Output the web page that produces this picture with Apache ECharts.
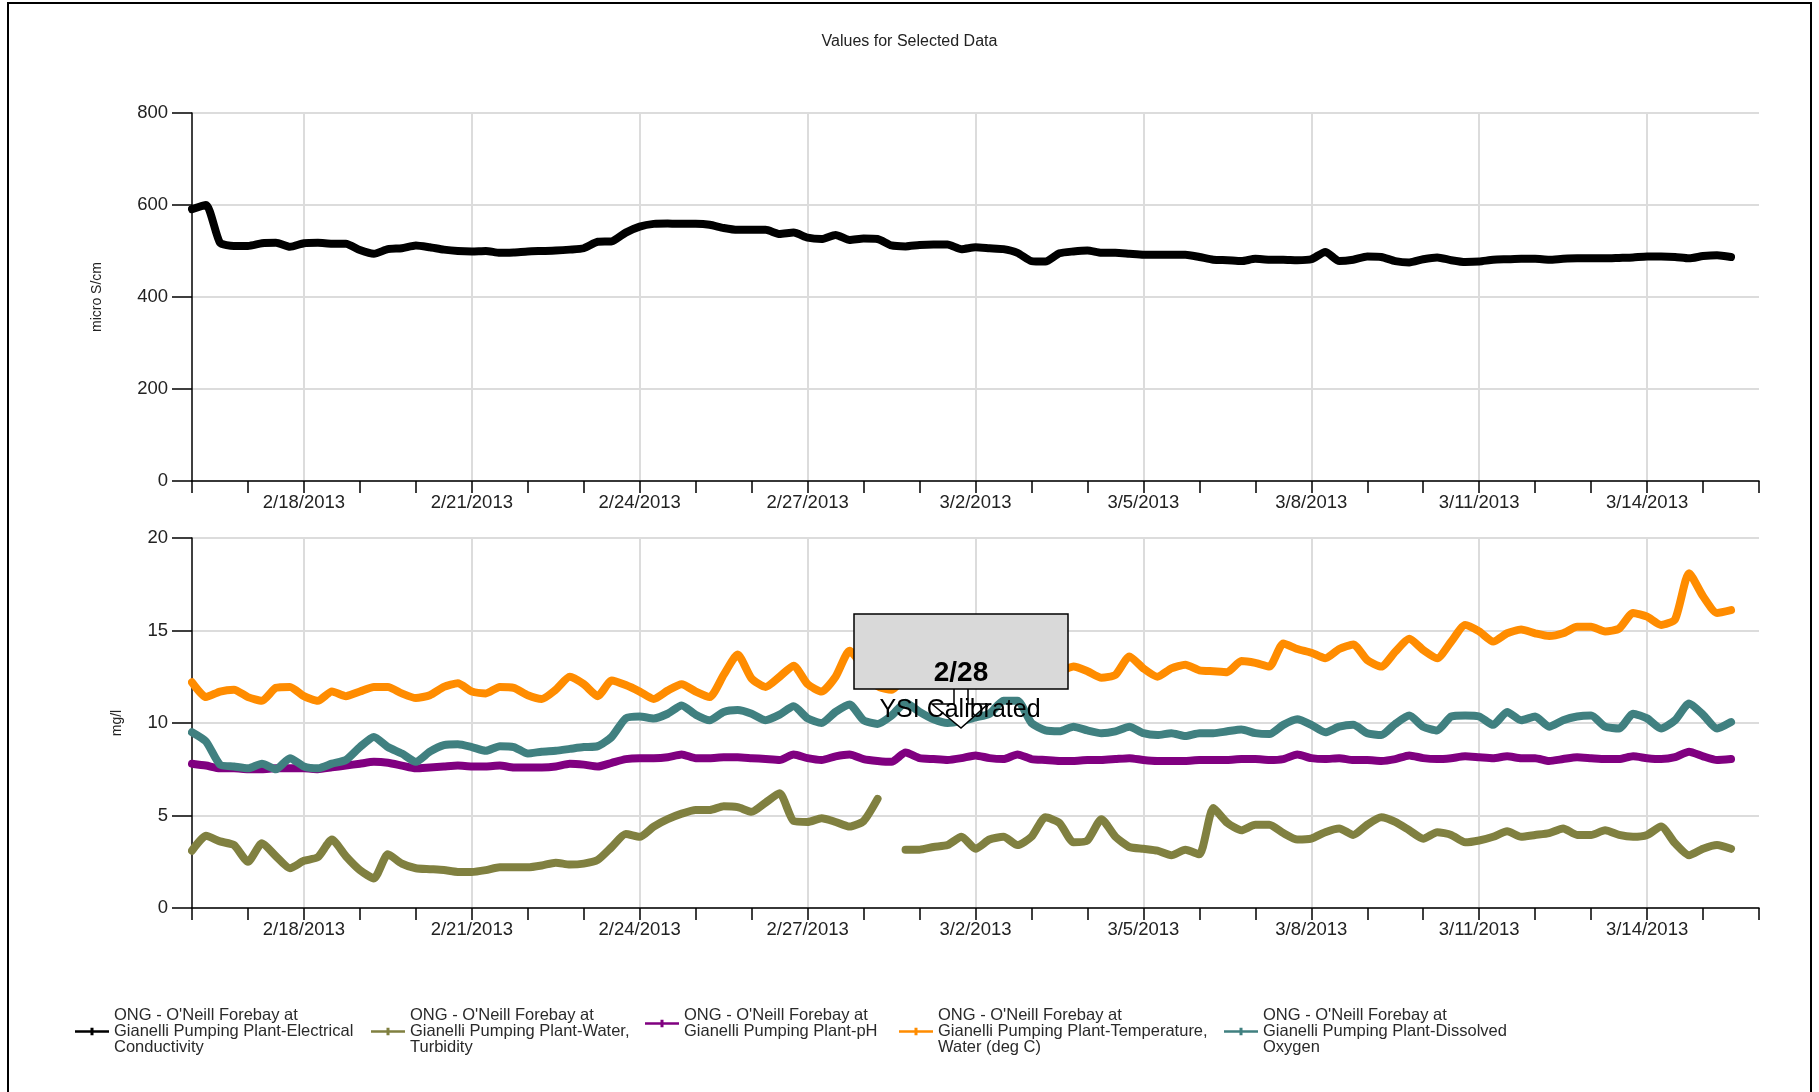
<!DOCTYPE html>
<html>
<head>
<meta charset="utf-8">
<title>Values for Selected Data</title>
<script src="https://cdn.jsdelivr.net/npm/echarts/dist/echarts.min.js"></script>
<style>
  html, body { margin: 0; padding: 0; background: #fff; }
  #chart { width: 1819px; height: 1092px; }
</style>
</head>
<body>
<div id="chart"></div>
<script>
// one entry per calendar day, readings every 6 hours
const dayLabels = [
  '2/16/2013', '2/17/2013', '2/18/2013', '2/19/2013', '2/20/2013', '2/21/2013', '2/22/2013',
  '2/23/2013', '2/24/2013', '2/25/2013', '2/26/2013', '2/27/2013', '2/28/2013', '3/1/2013',
  '3/2/2013', '3/3/2013', '3/4/2013', '3/5/2013', '3/6/2013', '3/7/2013', '3/8/2013',
  '3/9/2013', '3/10/2013', '3/11/2013', '3/12/2013', '3/13/2013', '3/14/2013', '3/15/2013',
  '3/16/2013'
];
const hours = ['00:00', '06:00', '12:00', '18:00'];

const seriesNames = [
  "ONG - O'Neill Forebay at\nGianelli Pumping Plant-Electrical\nConductivity",
  "ONG - O'Neill Forebay at\nGianelli Pumping Plant-Water,\nTurbidity",
  "ONG - O'Neill Forebay at\nGianelli Pumping Plant-pH",
  "ONG - O'Neill Forebay at\nGianelli Pumping Plant-Temperature,\nWater (deg C)",
  "ONG - O'Neill Forebay at\nGianelli Pumping Plant-Dissolved\nOxygen"
];
const seriesColors = ['#000000', '#808040', '#800080', '#ff8c00', '#408080'];

// micro S/cm
const conductivity = [
  591, 600, 518, 511, 511, 517, 518, 509, 517, 518, 516, 516,
  502, 494, 504, 506, 512, 508, 503, 500, 499, 500, 496, 497,
  499, 500, 501, 503, 506, 520, 521, 540, 553, 559, 560, 559,
  559, 557, 550, 546, 546, 546, 537, 540, 529, 526, 535, 524,
  527, 526, 512, 510, 513, 514, 514, 504, 508, 506, 504, 496,
  478, 477, 495, 499, 501, 496, 496, 494, 492, 492, 492, 492,
  487, 481, 480, 478, 483, 481, 481, 480, 482, 498, 478, 481,
  488, 487, 478, 475, 482, 486, 480, 476, 477, 481, 482, 483,
  483, 481, 483, 484, 484, 484, 485, 486, 488, 488, 487, 484,
  489, 491, 487, null, null
];

// mg/l panel
const turbidity = [
  3.1, 3.9, 3.6, 3.4, 2.5, 3.5, 2.8, 2.15, 2.55, 2.75, 3.7, 2.8,
  2.05, 1.6, 2.9, 2.4, 2.15, 2.1, 2.05, 1.95, 1.95, 2.05, 2.2, 2.2,
  2.2, 2.3, 2.45, 2.35, 2.4, 2.6, 3.3, 4.0, 3.85, 4.4, 4.8, 5.1,
  5.3, 5.3, 5.5, 5.45, 5.2, 5.7, 6.2, 4.7, 4.65, 4.85, 4.65, 4.4,
  4.7, 5.9, null, 3.15, 3.15, 3.3, 3.4, 3.85, 3.2, 3.7, 3.85, 3.4,
  3.85, 4.9, 4.6, 3.55, 3.65, 4.8, 3.85, 3.3, 3.2, 3.1, 2.85, 3.15,
  2.9, 5.4, 4.6, 4.2, 4.5, 4.5, 4.05, 3.7, 3.75, 4.1, 4.3, 3.95,
  4.5, 4.9, 4.65, 4.2, 3.75, 4.1, 3.95, 3.55, 3.65, 3.85, 4.15, 3.85,
  3.95, 4.05, 4.3, 3.95, 3.95, 4.2, 3.95, 3.85, 3.95, 4.4, 3.5, 2.85,
  3.2, 3.4, 3.2, null, null
];

const ph = [
  7.8, 7.7, 7.55, 7.55, 7.5, 7.5, 7.55, 7.55, 7.55, 7.5, 7.6, 7.7,
  7.8, 7.9, 7.85, 7.7, 7.55, 7.6, 7.65, 7.7, 7.65, 7.65, 7.7, 7.6,
  7.6, 7.6, 7.65, 7.8, 7.75, 7.65, 7.85, 8.05, 8.1, 8.1, 8.15, 8.3,
  8.1, 8.1, 8.15, 8.15, 8.1, 8.05, 8.0, 8.3, 8.1, 8.0, 8.2, 8.3,
  8.05, 7.95, 7.9, 8.4, 8.1, 8.05, 8.0, 8.1, 8.25, 8.1, 8.05, 8.3,
  8.05, 8.0, 7.95, 7.95, 8.0, 8.0, 8.05, 8.1, 8.0, 7.95, 7.95, 7.95,
  8.0, 8.0, 8.0, 8.05, 8.05, 8.0, 8.05, 8.3, 8.1, 8.05, 8.1, 8.0,
  8.0, 7.95, 8.05, 8.25, 8.1, 8.05, 8.1, 8.2, 8.15, 8.1, 8.2, 8.1,
  8.1, 7.95, 8.05, 8.15, 8.1, 8.05, 8.05, 8.2, 8.1, 8.05, 8.15, 8.45,
  8.2, 8.0, 8.05, null, null
];

const temperature = [
  12.2, 11.4, 11.7, 11.8, 11.4, 11.2, 11.9, 11.95, 11.45, 11.2, 11.7, 11.45,
  11.7, 11.95, 11.95, 11.6, 11.35, 11.5, 11.95, 12.15, 11.7, 11.6, 11.95, 11.9,
  11.5, 11.3, 11.8, 12.5, 12.1, 11.45, 12.3, 12.05, 11.7, 11.3, 11.75, 12.1,
  11.7, 11.4, 12.6, 13.7, 12.4, 11.95, 12.5, 13.1, 12.1, 11.7, 12.5, 13.9,
  13.0, 12.0, 11.8, 12.6, 13.2, 12.6, 12.2, 12.8, 13.1, 12.7, 12.4, 12.9,
  13.3, 12.9, 12.8, 13.05, 12.8, 12.45, 12.6, 13.6, 12.95, 12.5, 12.95, 13.15,
  12.85, 12.8, 12.75, 13.35, 13.25, 13.05, 14.3, 14.0, 13.8, 13.5, 14.0, 14.25,
  13.4, 13.05, 13.85, 14.55, 13.95, 13.5, 14.4, 15.3, 14.95, 14.4, 14.85, 15.05,
  14.85, 14.7, 14.85, 15.2, 15.2, 14.95, 15.1, 15.95, 15.75, 15.3, 15.6, 18.1,
  16.85, 15.95, 16.1, null, null
];

const dissolvedOxygen = [
  9.5, 9.0, 7.75, 7.65, 7.55, 7.8, 7.5, 8.1, 7.65, 7.55, 7.8, 8.0,
  8.7, 9.25, 8.7, 8.35, 7.9, 8.45, 8.8, 8.85, 8.7, 8.5, 8.75, 8.7,
  8.35, 8.45, 8.5, 8.6, 8.7, 8.75, 9.25, 10.25, 10.35, 10.25, 10.5, 10.95,
  10.45, 10.15, 10.6, 10.7, 10.5, 10.15, 10.45, 10.9, 10.25, 10.0, 10.6, 11.0,
  10.15, 9.95, 10.4, 11.1, 10.6, 10.2, 10.0, 10.1, 10.3, 10.5, 11.2, 11.2,
  10.0, 9.6, 9.55, 9.8, 9.6, 9.45, 9.55, 9.8, 9.45, 9.35, 9.45, 9.3,
  9.45, 9.45, 9.55, 9.65, 9.45, 9.4, 9.9, 10.2, 9.9, 9.5, 9.8, 9.9,
  9.45, 9.35, 9.95, 10.4, 9.8, 9.6, 10.35, 10.4, 10.35, 9.9, 10.6, 10.15,
  10.35, 9.8, 10.15, 10.35, 10.4, 9.8, 9.7, 10.5, 10.25, 9.7, 10.15, 11.05,
  10.45, 9.7, 10.05, null, null
];

const topTicks = { min: 0, max: 800, interval: 200 };
const bottomTicks = { min: 0, max: 20, interval: 5 };

const chart = echarts.init(document.getElementById('chart'));

const fontFamily = '"Liberation Sans", Arial, sans-serif';

// category per 6h reading, last day only midnight
const categories = [];
dayLabels.forEach((day, i) => {
  const hs = i === dayLabels.length - 1 ? hours.slice(0, 1) : hours;
  hs.forEach(h => categories.push(day + ' ' + h));
});

// 横轴样式
const xAxisBase = gridIndex => ({
  type: 'category',
  gridIndex: gridIndex,
  data: categories,
  boundaryGap: false,
  axisLine: { lineStyle: { color: '#000', width: 1.5 } },
  axisTick: {
    interval: i => i % 4 === 0,
    length: 12,
    lineStyle: { color: '#000', width: 1.5 }
  },
  axisLabel: {
    interval: i => i % 12 === 8,
    formatter: v => v.split(' ')[0],
    color: '#222',
    fontSize: 18.5,
    fontFamily: fontFamily,
    margin: 12
  },
  splitLine: {
    show: true,
    interval: i => i % 12 === 8,
    lineStyle: { color: '#dcdcdc', width: 2 }
  }
});

// 纵轴样式
const yAxisBase = (gridIndex, ticks, name, gap) => ({
  type: 'value',
  gridIndex: gridIndex,
  min: ticks.min,
  max: ticks.max,
  interval: ticks.interval,
  name: name,
  nameLocation: 'middle',
  nameGap: gap,
  nameMoveOverlap: false,
  nameTextStyle: { color: '#222', fontSize: 14, fontFamily: fontFamily },
  axisLine: { show: true, lineStyle: { color: '#000', width: 1.5 } },
  axisTick: { show: true, length: 20, lineStyle: { color: '#000', width: 1.5 } },
  axisLabel: { color: '#222', fontSize: 18.5, fontFamily: fontFamily, margin: 24 },
  splitLine: { lineStyle: { color: '#dcdcdc', width: 2 } }
});

const values = [conductivity, turbidity, ph, temperature, dissolvedOxygen];
const legendLeft = [75, 371, 645, 899, 1224];

const series = values.map((data, i) => ({
  name: seriesNames[i],
  type: 'line',
  xAxisIndex: i === 0 ? 0 : 1,
  yAxisIndex: i === 0 ? 0 : 1,
  data: data,
  symbol: 'none',
  smooth: 0.2,
  connectNulls: false,
  lineStyle: { color: seriesColors[i], width: 8, join: 'round', cap: 'round' },
  itemStyle: { color: seriesColors[i] },
  emphasis: { disabled: true },
  animation: false
}));

const legends = seriesNames.map((name, i) => ({
  data: [name],
  left: legendLeft[i],
  top: 1007,
  padding: 0,
  selectedMode: false,
  icon: 'path://M0,4L34,4L34,6.5L0,6.5Z M15.5,1.5L18.5,1.5L18.5,9L15.5,9Z',
  itemWidth: 34,
  itemHeight: 10,
  textStyle: { color: '#2a2a2a', fontSize: 16.5, lineHeight: 16, fontFamily: fontFamily }
}));

const option = {
  backgroundColor: '#fff',
  animation: false,
  title: {
    text: 'Values for Selected Data',
    left: 'center',
    top: 34,
    padding: 0,
    textStyle: { color: '#222', fontSize: 16, fontWeight: 'normal', fontFamily: fontFamily }
  },
  legend: legends,
  grid: [
    { left: 192, top: 113, width: 1567, height: 368, outerBoundsMode: 'none' },
    { left: 192, top: 538, width: 1567, height: 370, outerBoundsMode: 'none' }
  ],
  xAxis: [xAxisBase(0), xAxisBase(1)],
  yAxis: [
    yAxisBase(0, topTicks, 'micro S/cm', 88),
    yAxisBase(1, bottomTicks, 'mg/l', 68)
  ],
  series: series,
  graphic: [
    {
      type: 'rect',
      silent: true,
      shape: { x: 8, y: 3, width: 1803, height: 1100 },
      style: { fill: 'none', stroke: '#000', lineWidth: 2 }
    },
    {
      // callout pointer
      type: 'polygon',
      silent: true,
      z: 100,
      shape: { points: [[954, 688], [954, 704], [932, 704], [961, 728], [988, 704], [968, 704], [968, 688]] },
      style: { fill: '#fff', stroke: '#000', lineWidth: 1.5 }
    },
    {
      type: 'rect',
      silent: true,
      z: 101,
      shape: { x: 854, y: 614, width: 214, height: 75 },
      style: { fill: '#d9d9d9', stroke: '#000', lineWidth: 1.5 }
    },
    {
      type: 'text',
      silent: true,
      z: 102,
      x: 961,
      y: 673,
      style: {
        text: '2/28',
        fill: '#000',
        font: 'bold 28px ' + fontFamily,
        align: 'center',
        verticalAlign: 'middle'
      }
    },
    {
      type: 'text',
      silent: true,
      z: 102,
      x: 960,
      y: 710,
      style: {
        text: 'YSI Calibrated',
        fill: '#000',
        font: '25px ' + fontFamily,
        align: 'center',
        verticalAlign: 'middle'
      }
    }
  ]
};

chart.setOption(option);
</script>
</body>
</html>
